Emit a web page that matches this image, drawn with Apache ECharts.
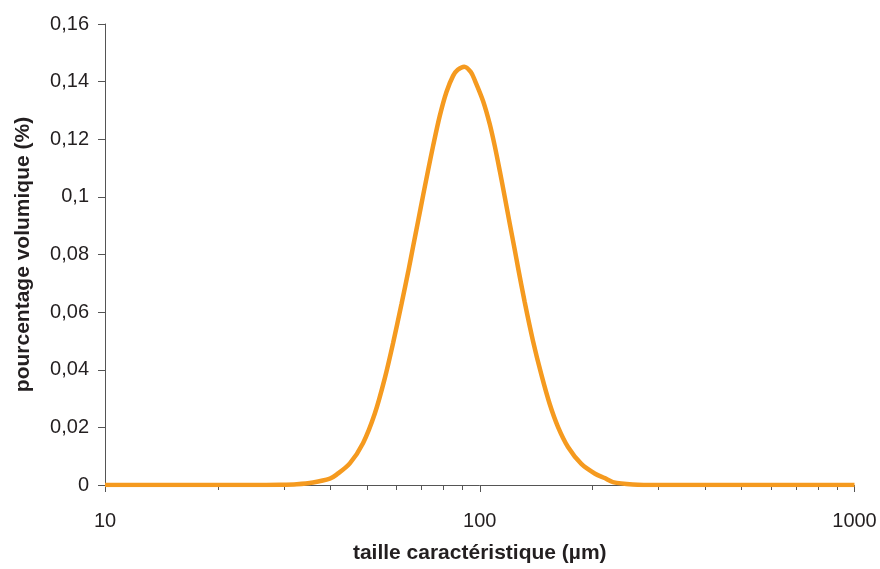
<!DOCTYPE html>
<html>
<head>
<meta charset="utf-8">
<script src="https://cdn.jsdelivr.net/npm/echarts@6/dist/echarts.min.js"></script>
<style>html,body{margin:0;padding:0;background:#fff}#c{width:880px;height:569px}</style>
</head>
<body>
<div id="c"></div>
<script>
var sizes = [10, 15, 20, 25, 29.3, 32.5, 35.9, 39.81, 41.49, 45.01, 48.84, 52.48, 55.81, 58.72, 61.83, 64.40, 66.41, 68.47, 70.61, 72.80, 75.08, 78.22, 81.50, 84.88, 87.36, 90.92, 94.62, 96.98, 102.05, 106.33, 109.65, 113.1, 116.6, 120.2, 124.0, 126.5, 131.8, 138.7, 146.1, 153.7, 161.8, 172.0, 186.7, 202.6, 215.4, 226.7, 255.9, 300, 400, 600, 1000];
var volumes = [0, 0, 0, 0, 0.0001, 0.0003, 0.0009, 0.0022, 0.0036, 0.0075, 0.0146, 0.0248, 0.0371, 0.0493, 0.0628, 0.0739, 0.0828, 0.0916, 0.1005, 0.1092, 0.1177, 0.1281, 0.1364, 0.142, 0.1441, 0.1452, 0.1434, 0.1405, 0.1333, 0.1253, 0.1177, 0.109, 0.1, 0.0908, 0.0816, 0.0755, 0.0635, 0.05, 0.0382, 0.0281, 0.0201, 0.0132, 0.0073, 0.004, 0.0024, 0.001, 0.0002, 0, 0, 0, 0];
var majorTicks = [10, 100, 1000];
var minorTicks = [20, 30, 40, 50, 60, 70, 80, 90, 200, 300, 400, 500, 600, 700, 800, 900];
var xTitle = 'taille caractéristique (µm)';
var yTitle = 'pourcentage volumique (%)';

var font = 'Liberation Sans, Arial, sans-serif';
var txt = '#231f20';
var axisCol = '#555';
var chart = echarts.init(document.getElementById('c'));
var pts = sizes.map(function (s, i) { return [s, volumes[i]]; });
chart.setOption({
  animation: false,
  grid: { left: 105, right: 25.5, top: 24, bottom: 84 },
  xAxis: [{
    type: 'log', logBase: 10, min: 10, max: 1000,
    name: xTitle, nameLocation: 'middle', nameGap: 58,
    nameTextStyle: { fontFamily: font, fontSize: 21, fontWeight: 'bold', color: txt },
    axisLine: { lineStyle: { color: axisCol, width: 1 } },
    axisTick: { show: true, length: 7, inside: false, customValues: majorTicks, lineStyle: { color: axisCol } },
    axisLabel: { fontFamily: font, fontSize: 20, color: txt, margin: 26, customValues: majorTicks,
      formatter: function (v) { return String(Math.round(v)); } },
    splitLine: { show: false }
  }, {
    type: 'log', logBase: 10, min: 10, max: 1000, position: 'bottom',
    axisLine: { show: false },
    axisTick: { show: true, length: 5, customValues: minorTicks, lineStyle: { color: axisCol } },
    axisLabel: { show: false },
    splitLine: { show: false }
  }],
  yAxis: {
    type: 'value', min: 0, max: 0.16, interval: 0.02,
    name: yTitle, nameLocation: 'middle', nameGap: 71,
    nameTextStyle: { fontFamily: font, fontSize: 21, fontWeight: 'bold', color: txt },
    axisLine: { show: true, lineStyle: { color: axisCol, width: 1 } },
    axisTick: { show: true, length: 7, lineStyle: { color: axisCol } },
    axisLabel: { fontFamily: font, fontSize: 20, color: txt, margin: 16,
      formatter: function (v) { return String(+v.toFixed(2)).replace('.', ','); } },
    splitLine: { show: false }
  },
  series: [{
    type: 'line', data: pts, xAxisIndex: 0, showSymbol: false, smooth: 0.3,
    lineStyle: { color: '#F59A1F', width: 4.5 }, z: 5
  }]
});
</script>
</body>
</html>
